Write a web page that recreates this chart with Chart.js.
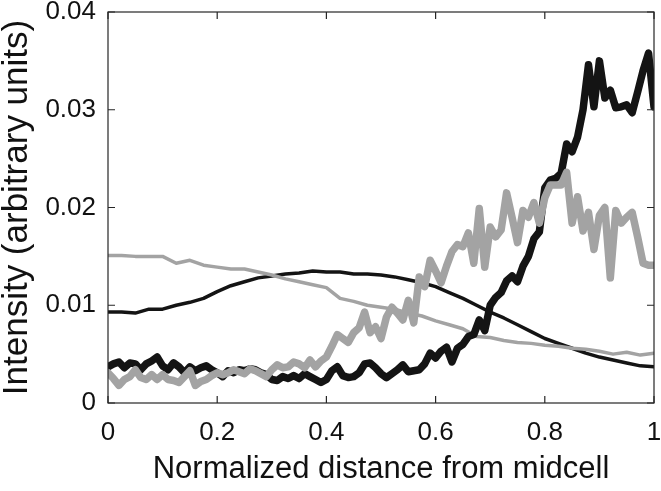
<!DOCTYPE html>
<html>
<head>
<meta charset="utf-8">
<script src="https://cdn.jsdelivr.net/npm/chart.js@4"></script>
<style>
    html, body { margin: 0; padding: 0; background: #fff; }
    #wrap { width: 661px; height: 491px; }
</style>
</head>
<body>
<div id="wrap"><canvas id="chart" width="661" height="491"></canvas></div>
<script>
// ============================
// Data
// ============================

const xFine = [
    0.00, 0.01, 0.02, 0.03, 0.04, 0.05, 0.06, 0.07, 0.08, 0.09,
    0.10, 0.11, 0.12, 0.13, 0.14, 0.15, 0.16, 0.17, 0.18, 0.19,
    0.20, 0.21, 0.22, 0.23, 0.24, 0.25, 0.26, 0.27, 0.28, 0.29,
    0.30, 0.31, 0.32, 0.33, 0.34, 0.35, 0.36, 0.37, 0.38, 0.39,
    0.40, 0.41, 0.42, 0.43, 0.44, 0.45, 0.46, 0.47, 0.48, 0.49,
    0.50, 0.51, 0.52, 0.53, 0.54, 0.55, 0.56, 0.57, 0.58, 0.59,
    0.60, 0.61, 0.62, 0.63, 0.64, 0.65, 0.66, 0.67, 0.68, 0.69,
    0.70, 0.71, 0.72, 0.73, 0.74, 0.75, 0.76, 0.77, 0.78, 0.79,
    0.80, 0.81, 0.82, 0.83, 0.84, 0.85, 0.86, 0.87, 0.88, 0.89,
    0.90, 0.91, 0.92, 0.93, 0.94, 0.95, 0.96, 0.97, 0.98, 0.99,
    1.00
];

const thickBlack = [
    0.0037, 0.0040, 0.0042, 0.0036, 0.0041, 0.0040, 0.0034, 0.0040, 0.0043, 0.0047,
    0.0038, 0.0034, 0.0041, 0.0037, 0.0031, 0.0037, 0.0033, 0.0036, 0.0038, 0.0034,
    0.0031, 0.0027, 0.0033, 0.0031, 0.0034, 0.0033, 0.0035, 0.0034, 0.0031, 0.0029,
    0.0024, 0.0023, 0.0027, 0.0025, 0.0028, 0.0025, 0.0030, 0.0027, 0.0024, 0.0021,
    0.0024, 0.0033, 0.0037, 0.0028, 0.0026, 0.0027, 0.0031, 0.0040, 0.0041, 0.0036,
    0.0030, 0.0026, 0.0030, 0.0034, 0.0039, 0.0032, 0.0033, 0.0034, 0.0040, 0.0051,
    0.0046, 0.0053, 0.0057, 0.0042, 0.0056, 0.0060, 0.0068, 0.0070, 0.0085, 0.0074,
    0.0100, 0.0108, 0.0113, 0.0125, 0.0130, 0.0124, 0.0140, 0.0150, 0.0168, 0.0175,
    0.0220, 0.0228, 0.0230, 0.0235, 0.0265, 0.0257, 0.0272, 0.0300, 0.0346, 0.0303,
    0.0350, 0.0312, 0.0320, 0.0302, 0.0303, 0.0305, 0.0297, 0.0318, 0.0340, 0.0358,
    0.0303
];

const thickGray = [
    0.0031, 0.0025, 0.0018, 0.0024, 0.0027, 0.0034, 0.0026, 0.0024, 0.0029, 0.0024,
    0.0029, 0.0024, 0.0023, 0.0021, 0.0027, 0.0033, 0.0018, 0.0022, 0.0024, 0.0028,
    0.0031, 0.0029, 0.0031, 0.0034, 0.0032, 0.0030, 0.0035, 0.0033, 0.0030, 0.0027,
    0.0034, 0.0039, 0.0036, 0.0037, 0.0042, 0.0040, 0.0036, 0.0044, 0.0037, 0.0043,
    0.0047, 0.0058, 0.0070, 0.0066, 0.0062, 0.0072, 0.0077, 0.0093, 0.0072, 0.0078,
    0.0066, 0.0088, 0.0098, 0.0092, 0.0085, 0.0105, 0.0082, 0.0129, 0.0119, 0.0146,
    0.0135, 0.0123, 0.0140, 0.0155, 0.0162, 0.0160, 0.0174, 0.0143, 0.0199, 0.0139,
    0.0180, 0.0170, 0.0177, 0.0215, 0.0190, 0.0164, 0.0197, 0.0190, 0.0205, 0.0184,
    0.0210, 0.0223, 0.0223, 0.0223, 0.0236, 0.0184, 0.0211, 0.0176, 0.0195, 0.0157,
    0.0192, 0.0200, 0.0128, 0.0197, 0.0184, 0.0190, 0.0195, 0.0170, 0.0143, 0.0141,
    0.0141
];

const xCoarse = [
    0.000, 0.025, 0.050, 0.075, 0.100, 0.125, 0.150, 0.175, 0.200, 0.225,
    0.250, 0.275, 0.300, 0.325, 0.350, 0.375, 0.400, 0.425, 0.450, 0.475,
    0.500, 0.525, 0.550, 0.575, 0.600, 0.625, 0.650, 0.675, 0.700, 0.725,
    0.750, 0.775, 0.800, 0.825, 0.850, 0.875, 0.900, 0.925, 0.950, 0.975,
    1.000
];

const thinBlack = [
    0.0093, 0.0093, 0.0092, 0.0096, 0.0096, 0.0100, 0.0103, 0.0107, 0.0114, 0.0120,
    0.0124, 0.0128, 0.0130, 0.0132, 0.0133, 0.0135, 0.0134, 0.0134, 0.0132, 0.0132,
    0.0131, 0.0129, 0.0126, 0.0123, 0.0119, 0.0113, 0.0107, 0.0100, 0.0093, 0.0087,
    0.0080, 0.0073, 0.0066, 0.0061, 0.0056, 0.0051, 0.0047, 0.0044, 0.0041, 0.0038,
    0.0037
];

const thinGray = [
    0.0151, 0.0151, 0.0150, 0.0150, 0.0150, 0.0143, 0.0146, 0.0141, 0.0139, 0.0137,
    0.0137, 0.0134, 0.0131, 0.0127, 0.0124, 0.0121, 0.0118, 0.0107, 0.0104, 0.0100,
    0.0098, 0.0096, 0.0092, 0.0089, 0.0084, 0.0080, 0.0076, 0.0068, 0.0067, 0.0064,
    0.0062, 0.0061, 0.0059, 0.0058, 0.0056, 0.0055, 0.0053, 0.0050, 0.0052, 0.0049,
    0.0051
];

const xTicks = [0, 0.2, 0.4, 0.6, 0.8, 1];
const yTicks = [0, 0.01, 0.02, 0.03, 0.04];

const BLACK = '#141414';
const GRAY = '#a3a3a3';
const FONT = "'Liberation Sans', Arial, Helvetica, sans-serif";

function pairs(xs, ys) {
    return xs.map((x, i) => ({ x: x, y: ys[i] }));
}

// ============================
// Frame + inward ticks (MATLAB style box)
// ============================

const boxPlugin = {
    id: 'box',
    afterDatasetsDraw(chart) {
        const { ctx, chartArea: a, scales } = chart;
        const len = 7;
        ctx.save();
        ctx.strokeStyle = '#262626';
        ctx.lineWidth = 1.2;
        ctx.strokeRect(a.left, a.top, a.right - a.left, a.bottom - a.top);
        ctx.beginPath();
        xTicks.forEach(v => {
            const px = scales.x.getPixelForValue(v);
            ctx.moveTo(px, a.bottom);
            ctx.lineTo(px, a.bottom - len);
            ctx.moveTo(px, a.top);
            ctx.lineTo(px, a.top + len);
        });
        yTicks.forEach(v => {
            const py = scales.y.getPixelForValue(v);
            ctx.moveTo(a.left, py);
            ctx.lineTo(a.left + len, py);
            ctx.moveTo(a.right, py);
            ctx.lineTo(a.right - len, py);
        });
        ctx.stroke();
        ctx.restore();
    }
};

// ============================
// Chart
// ============================

const lineStyle = {
    pointRadius: 0,
    tension: 0,
    borderJoinStyle: 'round',
    borderCapStyle: 'round',
    fill: false
};

new Chart(document.getElementById('chart').getContext('2d'), {
    type: 'line',
    data: {
        datasets: [
            { ...lineStyle, label: 'thick gray', data: pairs(xFine, thickGray), borderColor: GRAY, borderWidth: 7.5, order: 0 },
            { ...lineStyle, label: 'thick black', data: pairs(xFine, thickBlack), borderColor: BLACK, borderWidth: 7.5, order: 1 },
            { ...lineStyle, label: 'thin gray', data: pairs(xCoarse, thinGray), borderColor: GRAY, borderWidth: 3.5, order: 2 },
            { ...lineStyle, label: 'thin black', data: pairs(xCoarse, thinBlack), borderColor: BLACK, borderWidth: 3.5, order: 3 }
        ]
    },
    options: {
        responsive: false,
        animation: false,
        layout: {
            padding: { left: 0, right: 7, top: 12, bottom: 0 }
        },
        scales: {
            x: {
                type: 'linear',
                min: 0,
                max: 1,
                afterBuildTicks: s => { s.ticks = xTicks.map(v => ({ value: v })); },
                afterFit: s => {
                    s.height = 88;
                    s.paddingLeft = 0;
                    s.paddingRight = 0;
                },
                grid: { display: false, drawTicks: false },
                border: { display: false },
                ticks: {
                    color: '#111',
                    padding: 14,
                    maxRotation: 0,
                    font: { family: FONT, size: 26 },
                    callback: v => String(Number(v.toFixed(2)))
                },
                title: {
                    display: true,
                    text: 'Normalized distance from midcell',
                    color: '#111',
                    font: { family: FONT, size: 31, lineHeight: 1 },
                    padding: { top: 0, bottom: 6 }
                }
            },
            y: {
                type: 'linear',
                min: 0,
                max: 0.04,
                afterBuildTicks: s => { s.ticks = yTicks.map(v => ({ value: v })); },
                afterFit: s => {
                    s.width = 108;
                    s.paddingTop = 0;
                    s.paddingBottom = 0;
                },
                grid: { display: false, drawTicks: false },
                border: { display: false },
                ticks: {
                    color: '#111',
                    padding: 12,
                    font: { family: FONT, size: 26 },
                    callback: v => String(Number(v.toFixed(3)))
                },
                title: {
                    display: true,
                    text: 'Intensity (arbitrary units)',
                    color: '#111',
                    font: { family: FONT, size: 35, lineHeight: 1 },
                    padding: { top: 0, bottom: 0 }
                }
            }
        },
        plugins: {
            legend: { display: false },
            tooltip: { enabled: false }
        }
    },
    plugins: [boxPlugin]
});
</script>
</body>
</html>
